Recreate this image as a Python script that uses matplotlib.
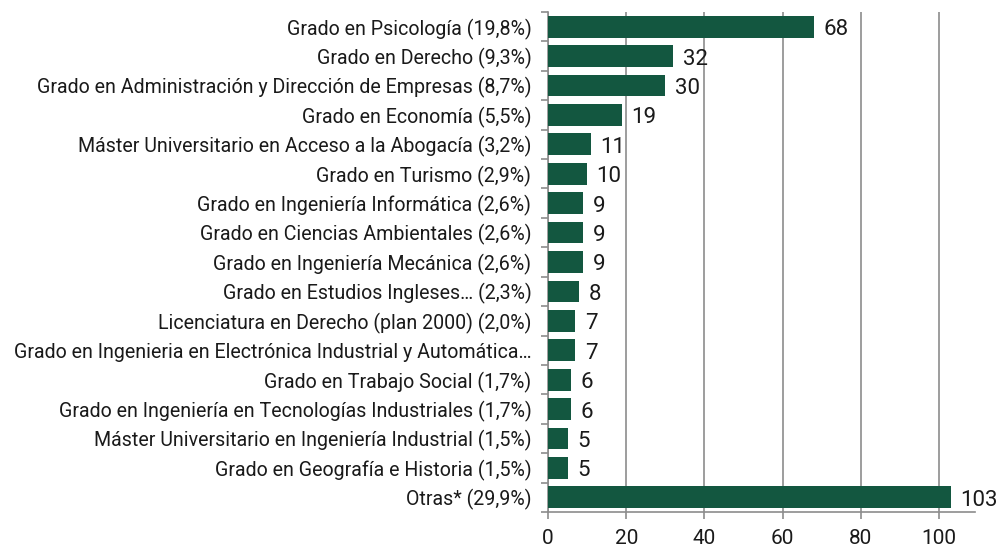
import matplotlib
matplotlib.use("Agg")
import matplotlib.pyplot as plt
import numpy as np

categories = [
    "Grado en Psicología (19,8%)",
    "Grado en Derecho (9,3%)",
    "Grado en Administración y Dirección de Empresas (8,7%)",
    "Grado en Economía (5,5%)",
    "Máster Universitario en Acceso a la Abogacía (3,2%)",
    "Grado en Turismo (2,9%)",
    "Grado en Ingeniería Informática (2,6%)",
    "Grado en Ciencias Ambientales (2,6%)",
    "Grado en Ingeniería Mecánica (2,6%)",
    "Grado en Estudios Ingleses… (2,3%)",
    "Licenciatura en Derecho (plan 2000) (2,0%)",
    "Grado en Ingenieria en Electrónica Industrial y Automática…",
    "Grado en Trabajo Social (1,7%)",
    "Grado en Ingeniería en Tecnologías Industriales (1,7%)",
    "Máster Universitario en Ingeniería Industrial (1,5%)",
    "Grado en Geografía e Historia (1,5%)",
    "Otras* (29,9%)",
]
values = [68, 32, 30, 19, 11, 10, 9, 9, 9, 8, 7, 7, 6, 6, 5, 5, 103]
xticks = [0, 20, 40, 60, 80, 100]

plt.rcParams['font.family'] = ['Roboto', 'DejaVu Sans']

fig = plt.figure(figsize=(10, 5.47), dpi=100)
ax = fig.add_axes([0.548, 0.064, 0.427, 0.914])

y = np.arange(len(categories))
color = "#135740"
grid_c = "#8c8c8c"
txt_c = "#1a1a1a"
ax.barh(y, values, height=0.74, color=color, zorder=3)
for yi, v in zip(y, values):
    ax.text(v + 2.4, yi + 0.1, str(v), va="center", ha="left", fontsize=16, color=txt_c, zorder=4)

ax.set_ylim(len(categories) - 0.5, -0.5)
ax.set_xlim(0, 109.2)
ax.set_xticks(xticks)
ax.set_xticklabels([str(t) for t in xticks], fontsize=15, color=txt_c)
ax.set_yticks(y)
ax.set_yticklabels(categories, fontsize=14.1, color=txt_c)
ax.tick_params(axis="y", length=0, pad=12)
ax.tick_params(axis="x", length=5, color=grid_c, width=1.2, pad=7)
ax.set_yticks(np.arange(-0.5, len(categories), 1), minor=True)
ax.tick_params(axis="y", which="minor", length=5, color=grid_c, width=1.2)
ax.xaxis.grid(True, color=grid_c, linewidth=1.2, zorder=0)
ax.set_axisbelow(True)
for s in ["top", "right"]:
    ax.spines[s].set_visible(False)
ax.spines["left"].set_color(grid_c)
ax.spines["bottom"].set_color(grid_c)
ax.spines["left"].set_linewidth(1.2)
ax.spines["bottom"].set_linewidth(1.2)

fig.savefig("out.png", dpi=100, facecolor="white")
